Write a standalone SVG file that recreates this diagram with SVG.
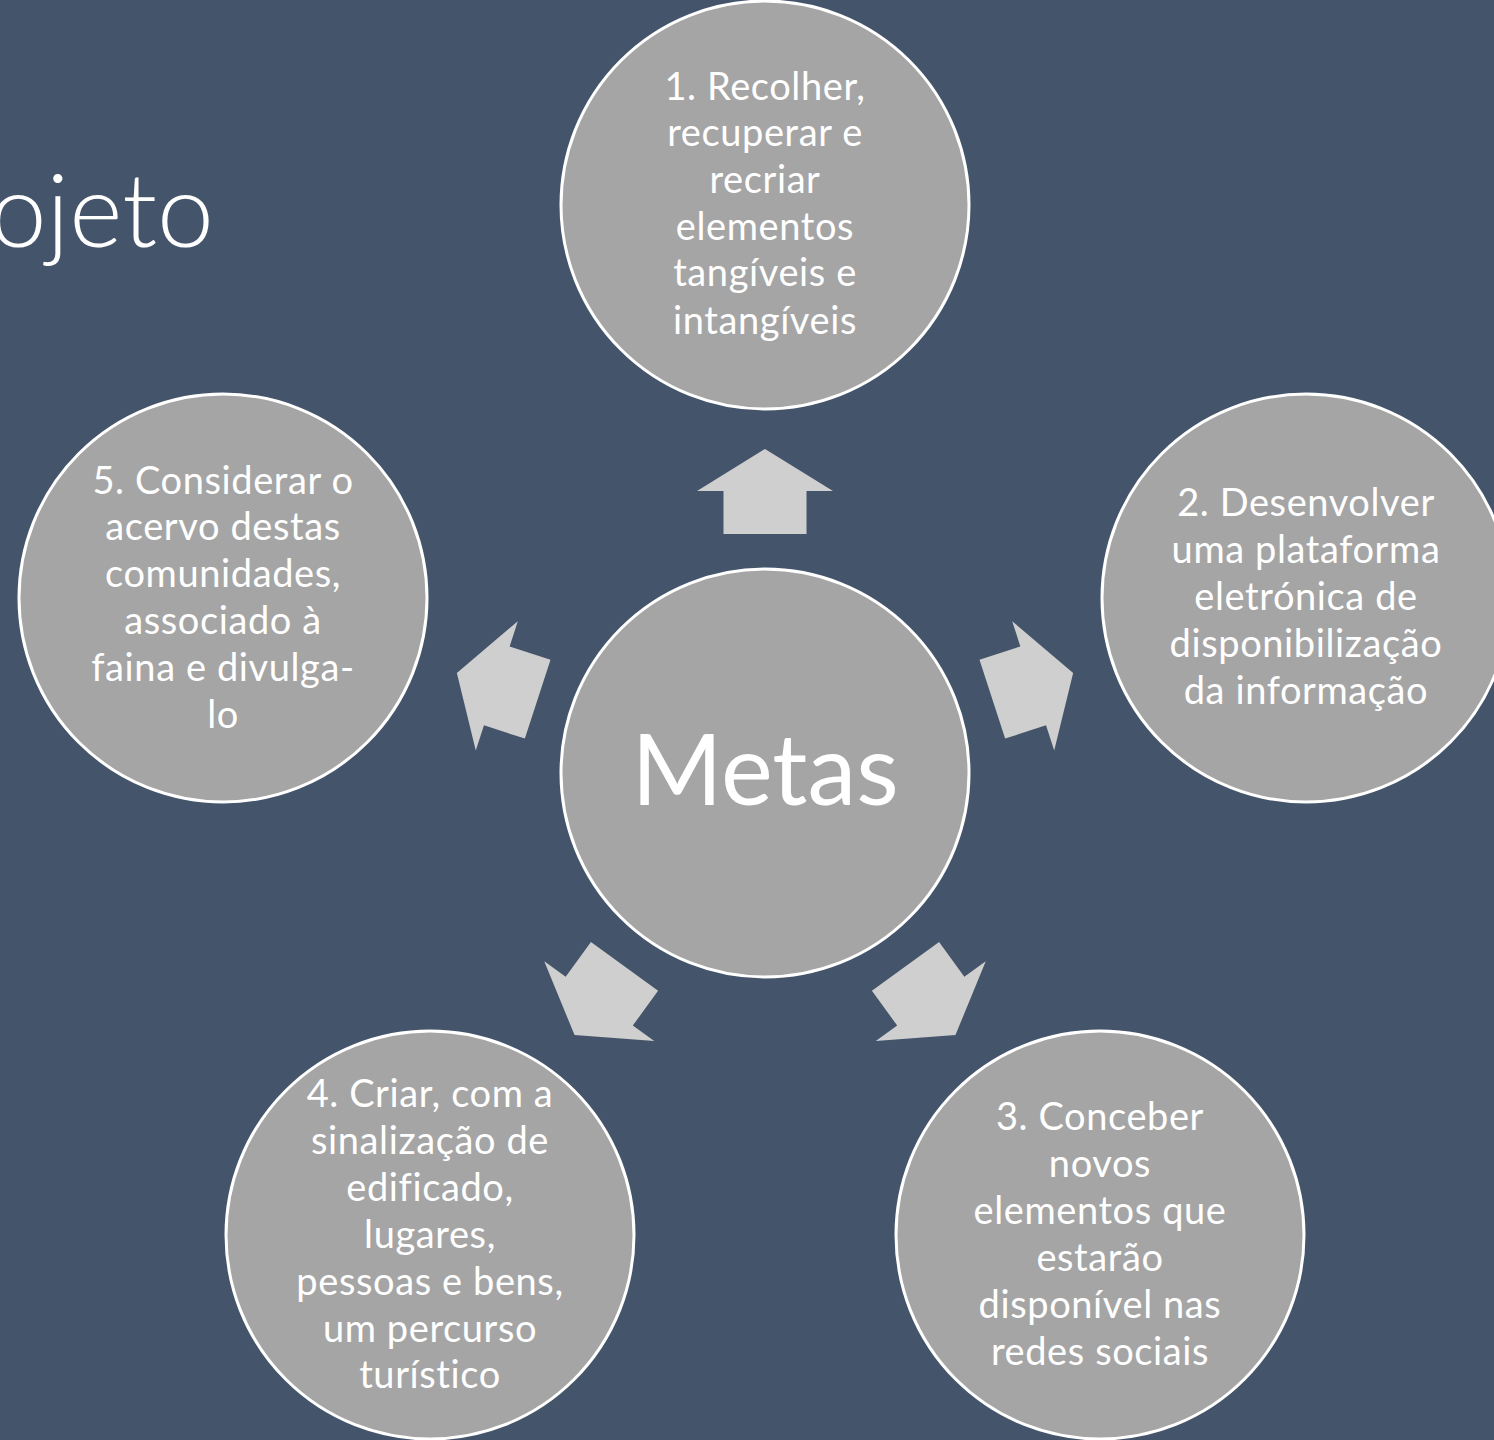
<svg xmlns="http://www.w3.org/2000/svg" width="1494" height="1440" viewBox="0 0 1494 1440">
<style>
.bg{fill:#44546A}
.node{fill:#A5A5A5;stroke:#FFFFFF;stroke-width:3}
.arrow{fill:#CFCFCF}
.t{font-family:Lato,"Open Sans","Liberation Sans",sans-serif;font-size:38px;letter-spacing:0.6px;fill:#FFFFFF;text-anchor:middle}
.big{font-family:Lato,"Open Sans","Liberation Sans",sans-serif;font-size:98px;fill:#FFFFFF;text-anchor:middle}
.title{font-family:Lato,"Open Sans","Liberation Sans",sans-serif;font-weight:300;font-size:102px;fill:#FFFFFF}
</style>
<defs>
<polygon id="arr" points="0,-324 68,-282 41.5,-282 41.5,-239 -41.5,-239 -41.5,-282 -68,-282"/>
</defs>
<rect class="bg" x="0" y="0" width="1494" height="1440"/>
<text class="title" x="214" y="247" text-anchor="end">ojeto</text>
<g id="connectors">
<use href="#arr" class="arrow" transform="translate(765,773)"/>
<use href="#arr" class="arrow" transform="translate(765,773) rotate(72)"/>
<use href="#arr" class="arrow" transform="translate(765,773) rotate(144)"/>
<use href="#arr" class="arrow" transform="translate(765,773) rotate(216)"/>
<use href="#arr" class="arrow" transform="translate(765,773) rotate(288)"/>
</g>
<g id="center">
<circle class="node" cx="765" cy="773" r="204"/>
<text class="big" x="765" y="805">Metas</text>
</g>
<g id="node1">
<circle class="node" cx="765" cy="205" r="204"/>
<text class="t"><tspan x="765" y="100">1. Recolher,</tspan><tspan x="765" y="146">recuperar e</tspan><tspan x="765" y="193">recriar</tspan><tspan x="765" y="240">elementos</tspan><tspan x="765" y="286">tangíveis e</tspan><tspan x="765" y="334">intangíveis</tspan></text>
</g>
<g id="node2">
<circle class="node" cx="1306" cy="598" r="204"/>
<text class="t"><tspan x="1306" y="516">2. Desenvolver</tspan><tspan x="1306" y="563">uma plataforma</tspan><tspan x="1306" y="610">eletrónica de</tspan><tspan x="1306" y="657">disponibilização</tspan><tspan x="1306" y="704">da informação</tspan></text>
</g>
<g id="node3">
<circle class="node" cx="1100" cy="1235" r="204"/>
<text class="t"><tspan x="1100" y="1130">3. Conceber</tspan><tspan x="1100" y="1177">novos</tspan><tspan x="1100" y="1224">elementos que</tspan><tspan x="1100" y="1271">estarão</tspan><tspan x="1100" y="1318">disponível nas</tspan><tspan x="1100" y="1365">redes sociais</tspan></text>
</g>
<g id="node4">
<circle class="node" cx="430" cy="1235" r="204"/>
<text class="t"><tspan x="430" y="1107">4. Criar, com a</tspan><tspan x="430" y="1154">sinalização de</tspan><tspan x="430" y="1201">edificado,</tspan><tspan x="430" y="1248">lugares,</tspan><tspan x="430" y="1295">pessoas e bens,</tspan><tspan x="430" y="1342">um percurso</tspan><tspan x="430" y="1388">turístico</tspan></text>
</g>
<g id="node5">
<circle class="node" cx="223" cy="598" r="204"/>
<text class="t"><tspan x="223" y="494">5. Considerar o</tspan><tspan x="223" y="540">acervo destas</tspan><tspan x="223" y="587">comunidades,</tspan><tspan x="223" y="634">associado  à</tspan><tspan x="223" y="681">faina e divulga-</tspan><tspan x="223" y="728">lo</tspan></text>
</g>
</svg>
